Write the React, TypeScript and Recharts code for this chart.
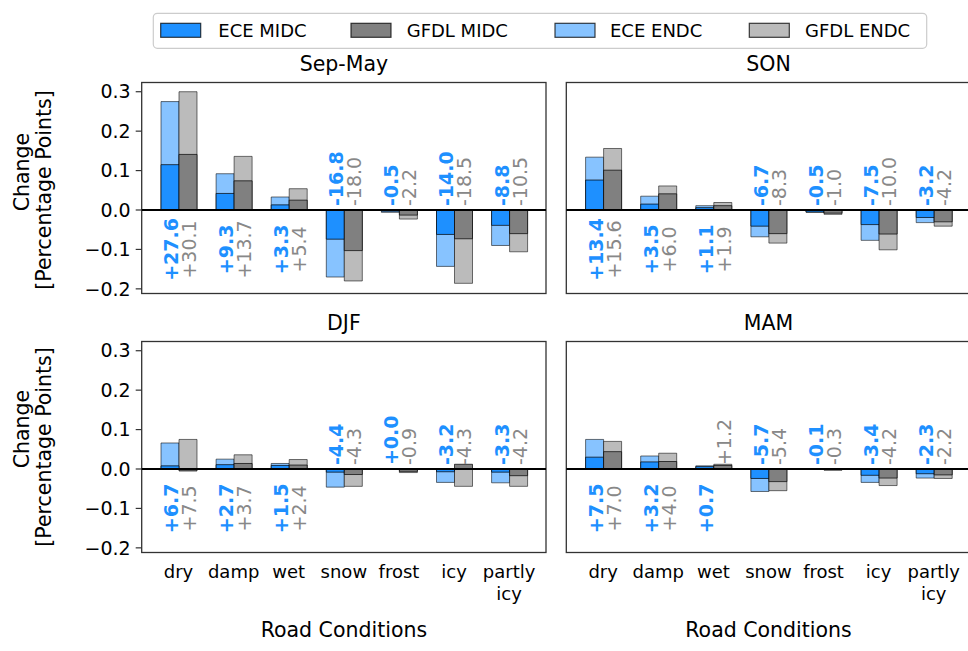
import React from "react";
import { BarChart, Bar, XAxis, YAxis, ReferenceLine, ReferenceArea, LabelList } from "recharts";

const FONT = "'DejaVu Sans', sans-serif";

const CATEGORIES = ["dry", "damp", "wet", "snow", "frost", "icy", "partly icy"];
const Y_TICKS = [-0.2, -0.1, 0, 0.1, 0.2, 0.3];
const Y_DOMAIN: [number, number] = [-0.2118, 0.3234];
const LABEL_BELOW = -0.1;
const LABEL_ABOVE = 0.01;

// Sep-May
const SEPMAY_ECE_MIDC = [0.115, 0.042, 0.013, -0.074, -0.003, -0.062, -0.039];
const SEPMAY_GFDL_MIDC = [0.141, 0.074, 0.025, -0.103, -0.013, -0.073, -0.06];
const SEPMAY_ECE_ENDC = [0.275, 0.092, 0.033, -0.17, -0.006, -0.143, -0.09];
const SEPMAY_GFDL_ENDC = [0.3, 0.136, 0.054, -0.18, -0.023, -0.186, -0.106];
const SEPMAY_ECE_LABELS = ["+27.6", "+9.3", "+3.3", "-16.8", "-0.5", "-14.0", "-8.8"];
const SEPMAY_GFDL_LABELS = ["+30.1", "+13.7", "+5.4", "-18.0", "-2.2", "-18.5", "-10.5"];
const SEPMAY_ECE_UP = [false, false, false, true, true, true, true];
const SEPMAY_GFDL_UP = [false, false, false, true, true, true, true];

// SON
const SON_ECE_MIDC = [0.076, 0.015, 0.006, -0.041, -0.005, -0.037, -0.019];
const SON_GFDL_MIDC = [0.101, 0.041, 0.011, -0.06, -0.008, -0.061, -0.03];
const SON_ECE_ENDC = [0.134, 0.035, 0.011, -0.068, -0.006, -0.077, -0.032];
const SON_GFDL_ENDC = [0.156, 0.061, 0.019, -0.084, -0.011, -0.101, -0.041];
const SON_ECE_LABELS = ["+13.4", "+3.5", "+1.1", "-6.7", "-0.5", "-7.5", "-3.2"];
const SON_GFDL_LABELS = ["+15.6", "+6.0", "+1.9", "-8.3", "-1.0", "-10.0", "-4.2"];
const SON_ECE_UP = [false, false, false, true, true, true, true];
const SON_GFDL_UP = [false, false, false, true, true, true, true];

// DJF
const DJF_ECE_MIDC = [0.008, 0.011, 0.009, -0.008, 0.0005, -0.007, -0.008];
const DJF_GFDL_MIDC = [-0.005, 0.014, 0.01, -0.014, -0.006, 0.012, -0.017];
const DJF_ECE_ENDC = [0.066, 0.025, 0.014, -0.046, 0.0005, -0.034, -0.035];
const DJF_GFDL_ENDC = [0.075, 0.036, 0.024, -0.044, -0.009, -0.044, -0.044];
const DJF_ECE_LABELS = ["+6.7", "+2.7", "+1.5", "-4.4", "+0.0", "-3.2", "-3.3"];
const DJF_GFDL_LABELS = ["+7.5", "+3.7", "+2.4", "-4.3", "-0.9", "-4.3", "-4.2"];
const DJF_ECE_UP = [false, false, false, true, true, true, true];
const DJF_GFDL_UP = [false, false, false, true, true, true, true];

// MAM
const MAM_ECE_MIDC = [0.03, 0.018, 0.006, -0.024, -0.001, -0.016, -0.012];
const MAM_GFDL_MIDC = [0.044, 0.019, 0.009, -0.032, -0.002, -0.023, -0.015];
const MAM_ECE_ENDC = [0.075, 0.033, 0.008, -0.057, -0.001, -0.034, -0.023];
const MAM_GFDL_ENDC = [0.07, 0.04, 0.012, -0.055, -0.003, -0.042, -0.024];
const MAM_ECE_LABELS = ["+7.5", "+3.2", "+0.7", "-5.7", "-0.1", "-3.4", "-2.3"];
const MAM_GFDL_LABELS = ["+7.0", "+4.0", "+1.2", "-5.4", "-0.3", "-4.2", "-2.2"];
const MAM_ECE_UP = [false, false, false, true, true, true, true];
const MAM_GFDL_UP = [false, false, true, true, true, true, true];

const ECE_MID = "#1e90ff";
const ECE_END = "#87c3ff";
const GFDL_MID = "#808080";
const GFDL_END = "#bbbbbb";
const ECE_TEXT = "#1e90ff";
const GFDL_TEXT = "#888888";
const FRAME = "#333333";
const PAD = 9.3;

const LEGEND = [
  { name: "ECE MIDC", color: ECE_MID, sx: 160.7, tx: 218.3 },
  { name: "GFDL MIDC", color: GFDL_MID, sx: 351, tx: 406.7 },
  { name: "ECE ENDC", color: ECE_END, sx: 555, tx: 610 },
  { name: "GFDL ENDC", color: GFDL_END, sx: 749.3, tx: 805 },
];

function fmtTick(v: number) {
  const s = Math.abs(v).toFixed(1);
  return v < -1e-9 ? "\u2212" + s : s;
}

function CatTick(props: any) {
  const { x, y, payload } = props;
  const lines = String(payload.value).split(" ");
  return (
    <text x={x} y={y + 25.8} textAnchor="middle" fontSize={18} fontFamily={FONT} fill="#000">
      {lines.map((l, i) => (
        <tspan key={i} x={x} dy={i === 0 ? 0 : 21.5}>
          {l}
        </tspan>
      ))}
    </text>
  );
}

// frame box: the reference area covers the padded range, widen it to the full plot
function FrameShape(props: any) {
  const x = Number(props.x);
  const y = Number(props.y);
  const w = Number(props.width);
  const h = Number(props.height);
  return (
    <rect
      x={x - PAD}
      y={Math.min(y, y + h)}
      width={w + 2 * PAD}
      height={Math.abs(h)}
      fill="none"
      stroke={FRAME}
      strokeWidth={1.3}
    />
  );
}

function makeLabel(color: string, weight: string) {
  return (props: any) => {
    const vb = props.viewBox && props.viewBox.width != null ? props.viewBox : props;
    const x = Number(vb.x);
    const y = Number(vb.y);
    const h = Number(vb.height);
    const w = Number(vb.width);
    const below = Math.abs(h) > 15;
    const ty = below ? Math.max(y, y + h) : Math.min(y, y + h);
    const cx = x + w / 2 + 1;
    return (
      <text
        x={cx}
        y={ty}
        transform={`rotate(-90, ${cx}, ${ty})`}
        textAnchor={below ? "middle" : "start"}
        dominantBaseline="central"
        fontSize={19}
        fontWeight={weight}
        fontFamily={FONT}
        fill={color}
      >
        {props.value}
      </text>
    );
  };
}

const eceLabel = makeLabel(ECE_TEXT, "bold");
const gfdlLabel = makeLabel(GFDL_TEXT, "normal");

interface PanelProps {
  eceMid: number[];
  gfdlMid: number[];
  eceEnd: number[];
  gfdlEnd: number[];
  eceLab: string[];
  gfdlLab: string[];
  eceUp: boolean[];
  gfdlUp: boolean[];
  showY: boolean;
  showX: boolean;
  left: number;
  top: number;
  width: number;
  height: number;
  margin: { top: number; right: number; bottom: number; left: number };
  yw: number;
  xh: number;
}

function Panel(p: PanelProps) {
  const data = CATEGORIES.map((cat, i) => ({
    cat,
    eceMid: p.eceMid[i],
    gfdlMid: p.gfdlMid[i],
    eceEnd: p.eceEnd[i],
    gfdlEnd: p.gfdlEnd[i],
    eceLab: p.eceLab[i],
    gfdlLab: p.gfdlLab[i],
    ecePos: p.eceUp[i] ? LABEL_ABOVE : LABEL_BELOW,
    gfdlPos: p.gfdlUp[i] ? LABEL_ABOVE : LABEL_BELOW,
  }));
  return (
    <div style={{ position: "absolute", left: p.left, top: p.top }}>
      <BarChart width={p.width} height={p.height} data={data} margin={p.margin} barGap={0}>
        <XAxis
          xAxisId="a"
          dataKey="cat"
          height={p.xh}
          padding={{ left: PAD, right: PAD }}
          interval={0}
          tick={p.showX ? <CatTick /> : false}
          tickLine={false}
          tickSize={0}
          tickMargin={0}
          axisLine={false}
        />
        <XAxis xAxisId="b" dataKey="cat" hide padding={{ left: PAD, right: PAD }} />
        <XAxis xAxisId="c" dataKey="cat" hide padding={{ left: PAD, right: PAD }} />
        <YAxis
          yAxisId="l"
          type="number"
          domain={Y_DOMAIN}
          ticks={Y_TICKS}
          allowDataOverflow
          width={p.yw}
          tick={p.showY ? { fontSize: 19, fill: "#000", fontFamily: FONT } : false}
          tickFormatter={fmtTick}
          tickSize={6}
          tickMargin={5}
          tickLine={{ stroke: FRAME, strokeWidth: 1.2 }}
          axisLine={false}
        />
        <ReferenceArea
          xAxisId="a"
          yAxisId="l"
          y1={Y_DOMAIN[0]}
          y2={Y_DOMAIN[1]}
          ifOverflow="visible"
          shape={<FrameShape />}
        />
        <Bar xAxisId="a" yAxisId="l" dataKey="eceEnd" barSize={18} fill={ECE_END} stroke="rgba(0,0,0,0.55)" strokeWidth={1} isAnimationActive={false} />
        <Bar xAxisId="a" yAxisId="l" dataKey="gfdlEnd" barSize={18} fill={GFDL_END} stroke="rgba(0,0,0,0.55)" strokeWidth={1} isAnimationActive={false} />
        <Bar xAxisId="b" yAxisId="l" dataKey="eceMid" barSize={18} fill={ECE_MID} stroke="rgba(0,0,0,0.7)" strokeWidth={1} isAnimationActive={false} />
        <Bar xAxisId="b" yAxisId="l" dataKey="gfdlMid" barSize={18} fill={GFDL_MID} stroke="rgba(0,0,0,0.7)" strokeWidth={1} isAnimationActive={false} />
        <Bar xAxisId="c" yAxisId="l" dataKey="ecePos" barSize={18} fill="none" stroke="none" isAnimationActive={false}>
          <LabelList dataKey="eceLab" content={eceLabel} />
        </Bar>
        <Bar xAxisId="c" yAxisId="l" dataKey="gfdlPos" barSize={18} fill="none" stroke="none" isAnimationActive={false}>
          <LabelList dataKey="gfdlLab" content={gfdlLabel} />
        </Bar>
        <ReferenceLine xAxisId="a" yAxisId="l" y={0} stroke="#000" strokeWidth={1.8} />
      </BarChart>
    </div>
  );
}

function YLabel({ cy }: { cy: number }) {
  const cy1 = cy - 18;
  return (
    <g fontFamily={FONT} fontSize={20.5} fill="#000">
      <text x={28.5} y={cy1} transform={`rotate(-90, 28.5, ${cy1})`} textAnchor="middle">
        Change
      </text>
      <text x={50.5} y={cy} transform={`rotate(-90, 50.5, ${cy})`} textAnchor="middle">
        [Percentage Points]
      </text>
    </g>
  );
}

export default function App() {
  const topMargin = { top: 82.5, right: 10, bottom: 6.5, left: 0 };
  const topMarginR = { top: 82.5, right: 9.4, bottom: 6.5, left: 0 };
  const botMargin = { top: 83.5, right: 10, bottom: 37.5, left: 0 };
  const botMarginR = { top: 83.5, right: 9.4, bottom: 37.5, left: 0 };
  return (
    <div
      style={{
        position: "absolute",
        left: 0,
        top: 0,
        width: 968,
        height: 651,
        overflow: "hidden",
        background: "#fff",
        fontFamily: FONT,
      }}
    >
      <svg width={968} height={651} style={{ position: "absolute", left: 0, top: 0 }}>
        <g fontFamily={FONT} fontSize={20.5} fill="#000" textAnchor="middle">
          <text x={343.9} y={71}>Sep-May</text>
          <text x={768.5} y={71}>SON</text>
          <text x={343.9} y={330}>DJF</text>
          <text x={768.5} y={330}>MAM</text>
          <text x={343.9} y={636.7}>Road Conditions</text>
          <text x={768.5} y={636.7}>Road Conditions</text>
        </g>
        <YLabel cy={190} />
        <YLabel cy={447} />
      </svg>
      <Panel
        eceMid={SEPMAY_ECE_MIDC}
        gfdlMid={SEPMAY_GFDL_MIDC}
        eceEnd={SEPMAY_ECE_ENDC}
        gfdlEnd={SEPMAY_GFDL_ENDC}
        eceLab={SEPMAY_ECE_LABELS}
        gfdlLab={SEPMAY_GFDL_LABELS}
        eceUp={SEPMAY_ECE_UP}
        gfdlUp={SEPMAY_GFDL_UP}
        showY
        showX={false}
        left={0}
        top={0}
        width={556}
        height={300}
        margin={topMargin}
        yw={141.7}
        xh={0}
      />
      <Panel
        eceMid={SON_ECE_MIDC}
        gfdlMid={SON_GFDL_MIDC}
        eceEnd={SON_ECE_ENDC}
        gfdlEnd={SON_GFDL_ENDC}
        eceLab={SON_ECE_LABELS}
        gfdlLab={SON_GFDL_LABELS}
        eceUp={SON_ECE_UP}
        gfdlUp={SON_GFDL_UP}
        showY={false}
        showX={false}
        left={420}
        top={0}
        width={560}
        height={300}
        margin={topMarginR}
        yw={146.3}
        xh={0}
      />
      <Panel
        eceMid={DJF_ECE_MIDC}
        gfdlMid={DJF_GFDL_MIDC}
        eceEnd={DJF_ECE_ENDC}
        gfdlEnd={DJF_GFDL_ENDC}
        eceLab={DJF_ECE_LABELS}
        gfdlLab={DJF_GFDL_LABELS}
        eceUp={DJF_ECE_UP}
        gfdlUp={DJF_GFDL_UP}
        showY
        showX
        left={0}
        top={258}
        width={556}
        height={392}
        margin={botMargin}
        yw={141.7}
        xh={60}
      />
      <Panel
        eceMid={MAM_ECE_MIDC}
        gfdlMid={MAM_GFDL_MIDC}
        eceEnd={MAM_ECE_ENDC}
        gfdlEnd={MAM_GFDL_ENDC}
        eceLab={MAM_ECE_LABELS}
        gfdlLab={MAM_GFDL_LABELS}
        eceUp={MAM_ECE_UP}
        gfdlUp={MAM_GFDL_UP}
        showY={false}
        showX
        left={420}
        top={258}
        width={560}
        height={392}
        margin={botMarginR}
        yw={146.3}
        xh={60}
      />
      <svg width={968} height={60} style={{ position: "absolute", left: 0, top: 0 }}>
        <rect x={153.3} y={13.3} width={773.4} height={35} rx={4} fill="#fff" stroke="#cccccc" strokeWidth={1.2} />
        {LEGEND.map((l) => (
          <g key={l.name}>
            <rect x={l.sx} y={23.3} width={40} height={14} fill={l.color} stroke="rgba(0,0,0,0.75)" strokeWidth={1.2} />
            <text x={l.tx} y={30.5} dominantBaseline="central" fontFamily={FONT} fontSize={18} fill="#000">
              {l.name}
            </text>
          </g>
        ))}
      </svg>
    </div>
  );
}
